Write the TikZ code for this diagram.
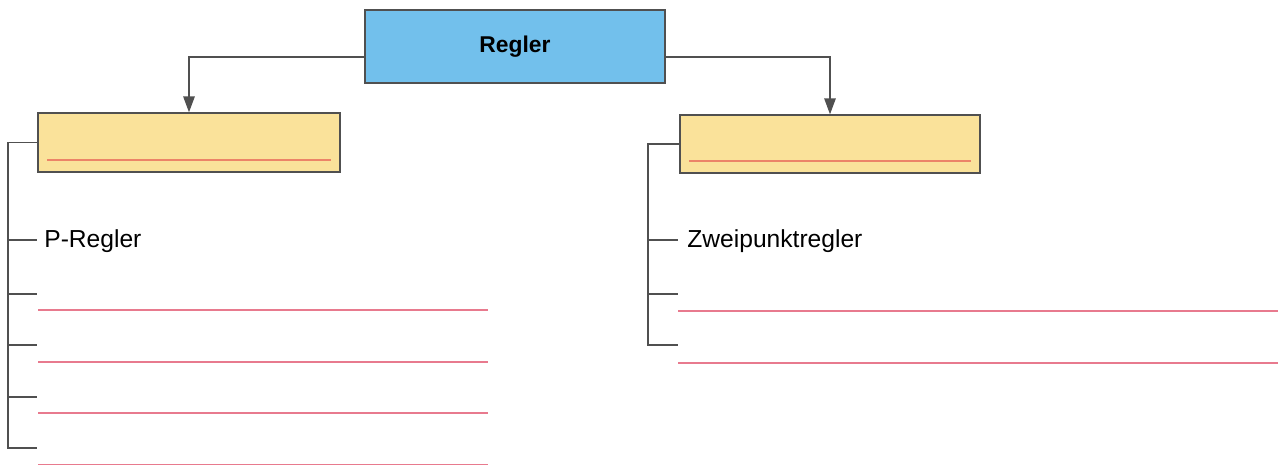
\documentclass[tikz,border=0pt]{standalone}
\usepackage{fontspec}
\setmainfont{Liberation Sans}
\usepackage{tikz}
\usetikzlibrary{arrows.meta,positioning}
\definecolor{reglerblue}{RGB}{114,192,236}
\definecolor{boxyellow}{RGB}{250,226,154}
\definecolor{linered}{RGB}{232,122,142}
\definecolor{boxred}{RGB}{236,132,104}
\definecolor{linegray}{RGB}{80,80,80}

\begin{document}
\begin{tikzpicture}[>={Triangle[length=9pt,width=6.5pt]},
  box/.style={draw=linegray,line width=0.8pt,minimum width=6cm,inner sep=0pt},
  line/.style={draw=linegray,line width=0.7pt},
  answer/.style={draw=linered,line width=0.6pt},
  item/.style={anchor=west,inner sep=4pt,font=\fontsize{14}{16}\selectfont}]

\useasboundingbox (0,0) rectangle (25.64,9.32);

\node (regler) [box,fill=reglerblue,minimum height=1.46cm,text depth=0.08cm,font=\fontsize{13}{15}\selectfont\bfseries] at (10.3,8.39) {Regler};
\node (lbox) [box,fill=boxyellow,minimum width=6.04cm,minimum height=1.18cm] at (3.78,6.47) {};
\node (rbox) [box,fill=boxyellow,minimum height=1.16cm] at (16.6,6.44) {};

\draw[->,line] ([yshift=-0.21cm]regler.west) -| (lbox.north);
\draw[->,line] ([yshift=-0.21cm]regler.east) -| (rbox.north);

\draw[boxred,line width=1pt] ([shift={(0.2,0.26)}]lbox.south west) -- ([shift={(-0.2,0.26)}]lbox.south east);
\draw[boxred,line width=1pt] ([shift={(0.2,0.26)}]rbox.south west) -- ([shift={(-0.2,0.26)}]rbox.south east);

% left list
\coordinate (lend) at (0.16,0.36);
\draw[line] (lbox.west) -| (lend) -- ++(0.58,0);
\foreach \y in {4.52,3.44,2.42,1.38}
  \draw[line] (0.16,\y) -- ++(0.58,0);
\node (preg) [item] at (0.74,4.5) {P-Regler};
\foreach \y in {3.12,2.08,1.06,0.03}
  \draw[answer] (0.76,\y) -- (9.76,\y);

% right list
\coordinate (rend) at (12.96,2.42);
\draw[line] (rbox.west) -| (rend) -- ++(0.6,0);
\foreach \y in {4.52,3.44}
  \draw[line] (12.96,\y) -- ++(0.6,0);
\node (zwei) [item] at (13.6,4.5) {Zweipunktregler};
\foreach \y in {3.1,2.06}
  \draw[answer] (13.56,\y) -- (25.56,\y);

\end{tikzpicture}
\end{document}
